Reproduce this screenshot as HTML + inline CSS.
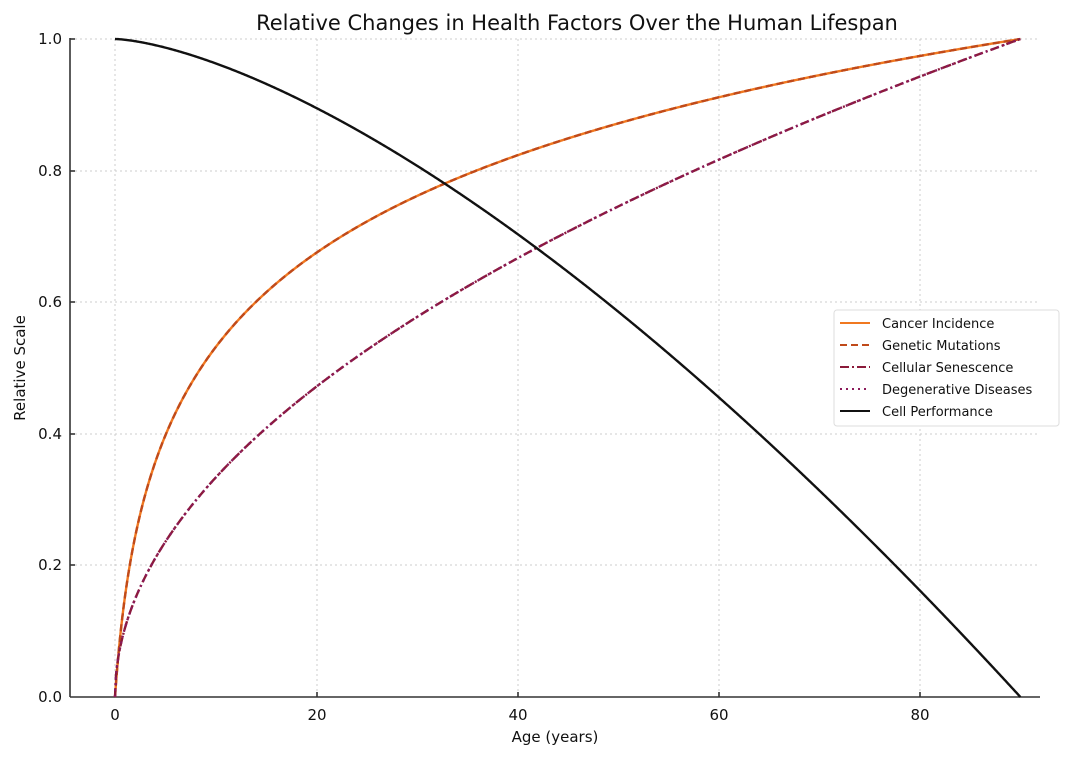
<!DOCTYPE html>
<html><head><meta charset="utf-8"><style>
body{margin:0;background:#fff}
text{font-family:"DejaVu Sans","Liberation Sans",sans-serif;fill:#111}
</style></head><body>
<svg id="s" width="1080" height="756" xmlns="http://www.w3.org/2000/svg">
<rect width="1080" height="756" fill="#fff"/>
<text x="577" y="30" font-size="21" text-anchor="middle">Relative Changes in Health Factors Over the Human Lifespan</text>
<g stroke="#ccc" stroke-width="1" stroke-dasharray="2,3">
<line x1="115" y1="39" x2="115" y2="697"/><line x1="317" y1="39" x2="317" y2="697"/><line x1="518" y1="39" x2="518" y2="697"/><line x1="719" y1="39" x2="719" y2="697"/><line x1="920" y1="39" x2="920" y2="697"/>
<line x1="70" y1="39" x2="1040" y2="39"/><line x1="70" y1="171" x2="1040" y2="171"/><line x1="70" y1="302" x2="1040" y2="302"/><line x1="70" y1="434" x2="1040" y2="434"/><line x1="70" y1="565" x2="1040" y2="565"/>
</g>
<g stroke="#333" stroke-width="1.6">
<line x1="70" y1="38" x2="70" y2="697"/><line x1="70" y1="697" x2="1040" y2="697"/>
<line x1="115" y1="697" x2="115" y2="692"/><line x1="317" y1="697" x2="317" y2="692"/><line x1="518" y1="697" x2="518" y2="692"/><line x1="719" y1="697" x2="719" y2="692"/><line x1="920" y1="697" x2="920" y2="692"/>
<line x1="70" y1="39" x2="75" y2="39"/><line x1="70" y1="171" x2="75" y2="171"/><line x1="70" y1="302" x2="75" y2="302"/><line x1="70" y1="434" x2="75" y2="434"/><line x1="70" y1="565" x2="75" y2="565"/>
</g>
<g font-size="15" text-anchor="middle">
<text x="115" y="720">0</text><text x="317" y="720">20</text><text x="518" y="720">40</text><text x="719" y="720">60</text><text x="920" y="720">80</text>
</g>
<g font-size="15" text-anchor="end">
<text x="62" y="44">1.0</text><text x="62" y="176">0.8</text><text x="62" y="307">0.6</text><text x="62" y="439">0.4</text><text x="62" y="570">0.2</text><text x="62" y="702">0.0</text>
</g>
<text x="555" y="742" font-size="15" text-anchor="middle">Age (years)</text>
<text x="25" y="368" font-size="15" text-anchor="middle" transform="rotate(-90 25 368)">Relative Scale</text>
<g id="curves" fill="none"></g>
<rect x="834" y="310" width="225" height="116" fill="#fff" stroke="#ddd" rx="3"/>
<g stroke-width="2">
<line x1="840" y1="323" x2="870" y2="323" stroke="#f07820"/>
<line x1="840" y1="345" x2="870" y2="345" stroke="#c04a1a" stroke-dasharray="7,4"/>
<line x1="840" y1="367" x2="870" y2="367" stroke="#8b1a3a" stroke-dasharray="9,3,2,3"/>
<line x1="840" y1="389" x2="870" y2="389" stroke="#8b1a5a" stroke-dasharray="2,4"/>
<line x1="840" y1="411" x2="870" y2="411" stroke="#111"/>
</g>
<g font-size="13">
<text x="882" y="328">Cancer Incidence</text><text x="882" y="350">Genetic Mutations</text><text x="882" y="372">Cellular Senescence</text><text x="882" y="394">Degenerative Diseases</text><text x="882" y="416">Cell Performance</text>
</g>
</svg>
<script>
var X=function(a){return 115+a*10.06},Y=function(v){return 697-v*658};
function P(f){var d="";for(var i=0;i<=900;i++){var a=i/10;d+=(i?"L":"M")+X(a).toFixed(2)+","+Y(f(a)).toFixed(2);}return d;}
var L=Math.log(91);
var c=[[function(a){return Math.log(1+a)/L},"#f07820",""],
[function(a){return Math.log(1+a)/L},"#c04a1a","7,4"],
[function(a){return Math.sqrt(a/90)},"#8b1a3a","9,3,2,3"],
[function(a){return Math.sqrt(a/90)},"#8b1a5a","2,4"],
[function(a){return 1-Math.pow(a/90,1.5)},"#111",""]];
var g=document.getElementById("curves");
c.forEach(function(k){var p=document.createElementNS("http://www.w3.org/2000/svg","path");p.setAttribute("d",P(k[0]));p.setAttribute("stroke",k[1]);p.setAttribute("stroke-width","2.4");if(k[2])p.setAttribute("stroke-dasharray",k[2]);g.appendChild(p);});
</script>
</body></html>
